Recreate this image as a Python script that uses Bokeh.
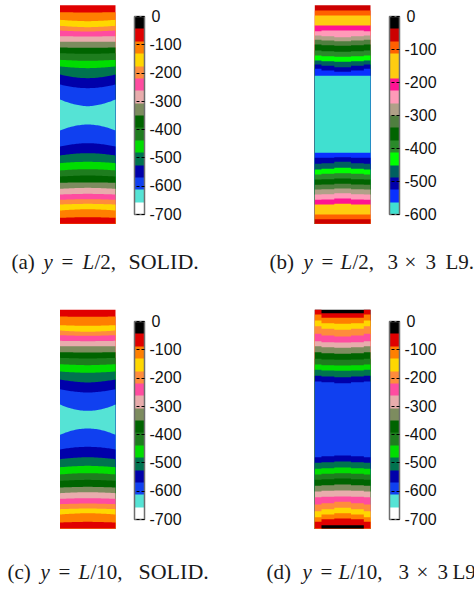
import numpy as np
from bokeh.plotting import figure
from bokeh.layouts import gridplot
from bokeh.models import ColumnDataSource, ColorBar, FixedTicker, Label, LinearColorMapper, Range1d
from bokeh.embed import file_html
from bokeh.resources import INLINE

palette_a = ["#000000", "#e00000", "#ff7f00", "#ffd700", "#ff8c3c", "#ff4ca0", "#e8acac", "#7d8c5f",
             "#006400", "#1e7d1e", "#00dd00", "#00734f", "#0000aa", "#1040f0", "#55e3d5", "#ffffff"]
palette_b = ["#000000", "#cc0000", "#ff6000", "#ffcc10", "#ffcc10", "#ff1493", "#ff9ab8", "#b0a088",
             "#4f7f3f", "#006400", "#2a8a2a", "#00ff00", "#006060", "#0000aa", "#0a30ff", "#40e0d0"]

# band index (0 = shallowest colour level) from top to bottom of each section
bands_a = [1,2,3,4,5,6,7,8,9,10,11,12,13,14,13,12,11,10,9,8,7,6,5,4,3,2,1]
bands_b = [1,2,3,5,6,7,8,9,10,11,12,13,14,15,14,13,12,11,10,9,8,7,6,5,3,2,1]
bands_c = bands_a
bands_d = [0,1,2,3,4,5,6,7,8,9,10,11,12,13,12,11,10,9,8,7,6,5,4,3,2,1,0]

# depth of the contour between consecutive bands: at the wall, at the quarter, at the centre
lines_a = [(35,35,36),(58,60,62),(76,78,80),(90,92,93),(107,107,108),(124,124,124),(141,141,142),
           (158,159,160),(178,179,181),(198,200,203),(222,230,233),(252,260,263),(297,311,317),
           (390,377,372),(438,431,428),(465,460,458),(488,485,484),(510,507,506),(528,526,525),
           (547,546,546),(565,563,562),(582,581,580),(598,597,596),(612,611,610),(630,628,626),(652,651,650)]
lines_b = [(30,30,30),(45,45,45),(75,75,75),(92,90,90),(105,107,110),(118,120,122),(132,134,136),
           (150,152,154),(165,167,169),(180,182,184),(192,196,200),(205,210,214),(226,226,226),
           (457,457,457),(472,472,470),(490,488,484),(507,505,502),(522,520,518),(537,536,534),
           (553,552,550),(567,566,564),(582,581,578),(598,597,594),(612,612,610),(642,642,642),(656,656,656)]
lines_c = [(48,48,49),(74,75,76),(90,92,94),(104,105,106),(121,121,122),(137,137,137),(155,155,156),
           (172,173,174),(191,192,194),(213,214,217),(237,243,246),(266,273,276),(312,326,331),
           (403,389,384),(447,441,439),(476,472,470),(500,498,496),(522,519,518),(541,539,538),
           (561,560,559),(578,576,575),(595,594,593),(611,610,609),(626,625,624),(642,640,638),(666,665,664)]
lines_d = [(28,38,38),(42,52,52),(60,68,70),(77,85,88),(100,105,108),(122,125,126),(137,140,142),
           (155,158,160),(175,177,178),(192,194,195),(208,210,211),(226,228,230),(243,245,248),
           (470,467,465),(487,485,483),(505,503,501),(522,520,518),(538,536,534),(556,554,552),
           (573,571,570),(590,589,588),(612,608,604),(632,626,622),(650,642,638),(664,656,654),(684,674,674)]

ticks_a = [0, -100, -200, -300, -400, -500, -600, -700]
ticks_b = [0, -100, -200, -300, -400, -500, -600]
lows = {"a": -700, "b": -600}


def contour(line, stair):
    e, q, c = line
    if stair:
        x = np.array([0, .12, .12, .35, .35, .65, .65, .88, .88, 1])
        y = [e, e, q, q, c, c, q, q, e, e]
        return x, np.array(y, dtype=float)
    x = np.linspace(0, 1, 41)
    u = np.abs(x - .5) * 2
    if e == c:
        return x, np.full_like(x, float(e))
    ratio = np.clip((q - c) / (e - c), .1, .35)
    n = np.log(ratio) / np.log(.5)
    return x, c + (e - c) * u ** n


def panel(px_left, page_top, height, x0, x1, offset, top, bottom, bands, lines, palette, low, ticks,
          bar_x, bar_top, bar_h, label_x, caption, stair):
    width = 237
    sx = (x1 - x0)
    xr = Range1d((px_left - x0) / sx, (px_left + width - x0) / sx)
    yr = Range1d((page_top + height - offset) * 3, (page_top - offset) * 3)
    p = figure(width=width, height=height, x_range=xr, y_range=yr, output_backend="svg",
               toolbar_location=None, min_border=0, outline_line_color=None)
    p.axis.visible = False
    p.grid.visible = False
    mapper = LinearColorMapper(palette=palette[::-1], low=low, high=0)
    step = -low / 16
    xs, ys, lv = [[0, 1, 1, 0]], [[top, top, bottom, bottom]], [-(bands[0] + .5) * step]
    for b, ln in zip(bands[1:], lines):
        x, y = contour(ln, stair)
        xs.append(list(x) + [1, 0])
        ys.append(list(y) + [bottom, bottom])
        lv.append(-(b + .5) * step)
    p.patches("xs", "ys", source=ColumnDataSource(dict(xs=xs, ys=ys, level=lv)),
              fill_color={"field": "level", "transform": mapper}, line_color=None)
    cb = ColorBar(color_mapper=mapper, ticker=FixedTicker(ticks=ticks), width=10, height=bar_h,
                  location=(bar_x - px_left, page_top + height - bar_top - bar_h), padding=0, margin=0,
                  background_fill_color=None, border_line_color=None, bar_line_color="#6e6e6e", bar_line_width=1.5,
                  major_tick_in=10, major_tick_out=0, major_tick_line_color="#000000", major_tick_line_dash="3 2",
                  minor_tick_line_color=None, major_label_overrides={t: "" for t in ticks})
    p.add_layout(cb)
    for t in ticks:
        z = (bar_top + bar_h * t / low - 0.8 - offset) * 3
        lx = label_x + (2 if t == 0 else 0)
        p.add_layout(Label(x=(lx - x0) / sx, y=z, text=str(t), text_font="Liberation Sans",
                           text_font_size="16px", text_color="#111111", text_baseline="middle"))
    for txt, x, style, y in caption:
        p.add_layout(Label(x=(x - x0) / sx, y=(y - offset) * 3, text=txt, text_font="Liberation Serif",
                           text_font_size="22px" if txt == "SOLID." else "21px", text_font_style=style,
                           text_color="#1a1a1a", text_baseline="alphabetic"))
    return p


cap_a = [("(a)", 11, "normal", 261), ("y", 43, "italic", 261), ("=", 61, "normal", 261), ("L", 82, "italic", 261),
         ("/2,", 94, "normal", 261), ("SOLID.", 128, "normal", 261)]
cap_b = [("(b)", 269, "normal", 261), ("y", 303, "italic", 261), ("=", 321, "normal", 261), ("L", 340, "italic", 261),
         ("/2,", 352, "normal", 261), ("3", 387, "normal", 261), ("×", 404, "normal", 261), ("3", 425, "normal", 261),
         ("L9.", 445, "normal", 261)]
cap_c = [("(c)", 7, "normal", 571), ("y", 40, "italic", 571), ("=", 58, "normal", 571), ("L", 78, "italic", 571),
         ("/10,", 90, "normal", 571), ("SOLID.", 138, "normal", 571)]
cap_d = [("(d)", 266, "normal", 571), ("y", 302, "italic", 571), ("=", 320, "normal", 571), ("L", 338, "italic", 571),
         ("/10,", 350, "normal", 571), ("3", 398, "normal", 571), ("×", 416, "normal", 571), ("3", 437, "normal", 571),
         ("L9", 452, "normal", 571)]

pa = panel(0, 0, 295, 59.5, 115, 0, 14, 670, bands_a, lines_a, palette_a, lows["a"], ticks_a, 134, 16, 198, 149, cap_a, False)
pb = panel(237, 0, 295, 314.3, 370, 0, 14, 670, bands_b, lines_b, palette_b, lows["b"], ticks_b, 389, 16, 198, 404, cap_b, True)
pc = panel(0, 295, 294, 59.5, 115, 300, 28, 684, bands_c, lines_c, palette_a, lows["a"], ticks_a, 134, 321, 198, 149, cap_c, False)
pd = panel(237, 295, 294, 314.3, 370, 300, 28, 684, bands_d, lines_d, palette_a, lows["a"], ticks_a, 389, 321, 198, 404, cap_d, True)

root = gridplot([[pa, pb], [pc, pd]], toolbar_location=None)
root.styles = {"position": "absolute", "left": "0px", "top": "0px"}
open("out.html", "w").write(file_html(root, INLINE))
